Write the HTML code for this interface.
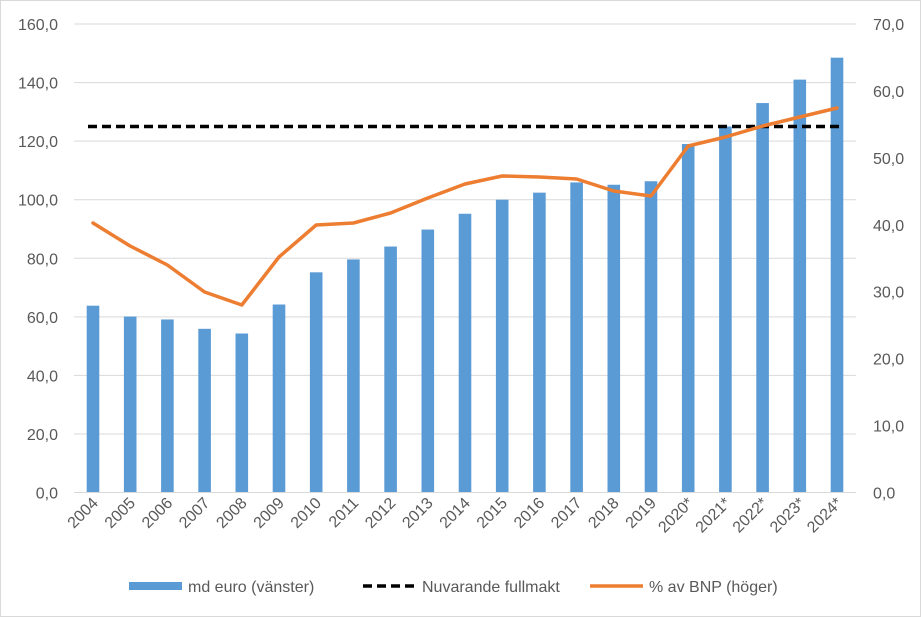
<!DOCTYPE html>
<html><head><meta charset="utf-8"><style>
body{margin:0;background:#fff}
svg{display:block;font-family:"Liberation Sans",sans-serif}
</style></head><body>
<svg id="c" width="921" height="617" viewBox="0 0 921 617" xmlns="http://www.w3.org/2000/svg">
<rect x="0.5" y="0.5" width="920" height="616" fill="#fff" stroke="#d9d9d9"/>
</svg>
<script>
(function(){
const s=document.getElementById('c'),NS='http://www.w3.org/2000/svg';
function el(t,a,txt){const e=document.createElementNS(NS,t);for(const k in a)e.setAttribute(k,a[k]);if(txt!==undefined)e.textContent=txt;s.appendChild(e);return e;}
const y0=492.5,yTop=24,L=74,R=856;
for(let i=0;i<=8;i++){const y=y0-i*(y0-yTop)/8;
 if(i>0)el('line',{x1:L,x2:R,y1:y,y2:y,stroke:'#d9d9d9','stroke-width':1});
 el('text',{x:58,y:y+6,'text-anchor':'end','font-size':16,fill:'#595959'},(i*20).toFixed(1).replace('.',','));
}
for(let i=0;i<=7;i++){const y=y0-i*(y0-yTop)/7;
 el('text',{x:873,y:y+6,'font-size':16,fill:'#595959'},(i*10).toFixed(1).replace('.',','));
}
const bars=[63.8,60.1,59.1,55.9,54.3,64.2,75.2,79.6,84,89.8,95.2,100,102.4,105.9,105.1,106.3,119,125,133,141,148.5];
const pct=[223,246,265,292,305,257,225,223,213,198,184,176,177,179,191,196,146,137,126,117,108];
const yrs=['2004','2005','2006','2007','2008','2009','2010','2011','2012','2013','2014','2015','2016','2017','2018','2019','2020*','2021*','2022*','2023*','2024*'];
const ppu=(y0-yTop)/160;let pts=[];
bars.forEach((v,i)=>{const cx=93+i*37.2;
 el('rect',{x:cx-6.3,y:y0-v*ppu,width:12.6,height:v*ppu,fill:'#5b9bd5'});
 pts.push(cx+','+pct[i]);
 el('text',{x:cx+6,y:504,'text-anchor':'end','font-size':16,fill:'#595959',transform:'rotate(-45 '+(cx+6)+' 504)'},yrs[i]);
});
el('line',{x1:L,x2:R,y1:y0,y2:y0,stroke:'#d9d9d9','stroke-width':1});
el('line',{x1:88,x2:842,y1:126.5,y2:126.5,stroke:'#000','stroke-width':3.5,'stroke-dasharray':'9 5'});
el('polyline',{points:pts.join(' '),fill:'none',stroke:'#ed7d31','stroke-width':3.5,'stroke-linejoin':'round','stroke-linecap':'round'});
el('rect',{x:129,y:582,width:53,height:8,fill:'#5b9bd5'});
el('text',{x:188,y:592,'font-size':16,fill:'#595959'},'md euro (vänster)');
el('line',{x1:363,x2:416,y1:586,y2:586,stroke:'#000','stroke-width':3.5,'stroke-dasharray':'9 5'});
el('text',{x:422,y:592,'font-size':16,fill:'#595959'},'Nuvarande fullmakt');
el('line',{x1:590,x2:643,y1:586,y2:586,stroke:'#ed7d31','stroke-width':3.5});
el('text',{x:649,y:592,'font-size':16,fill:'#595959'},'% av BNP (höger)');
})();
</script>
</body></html>
